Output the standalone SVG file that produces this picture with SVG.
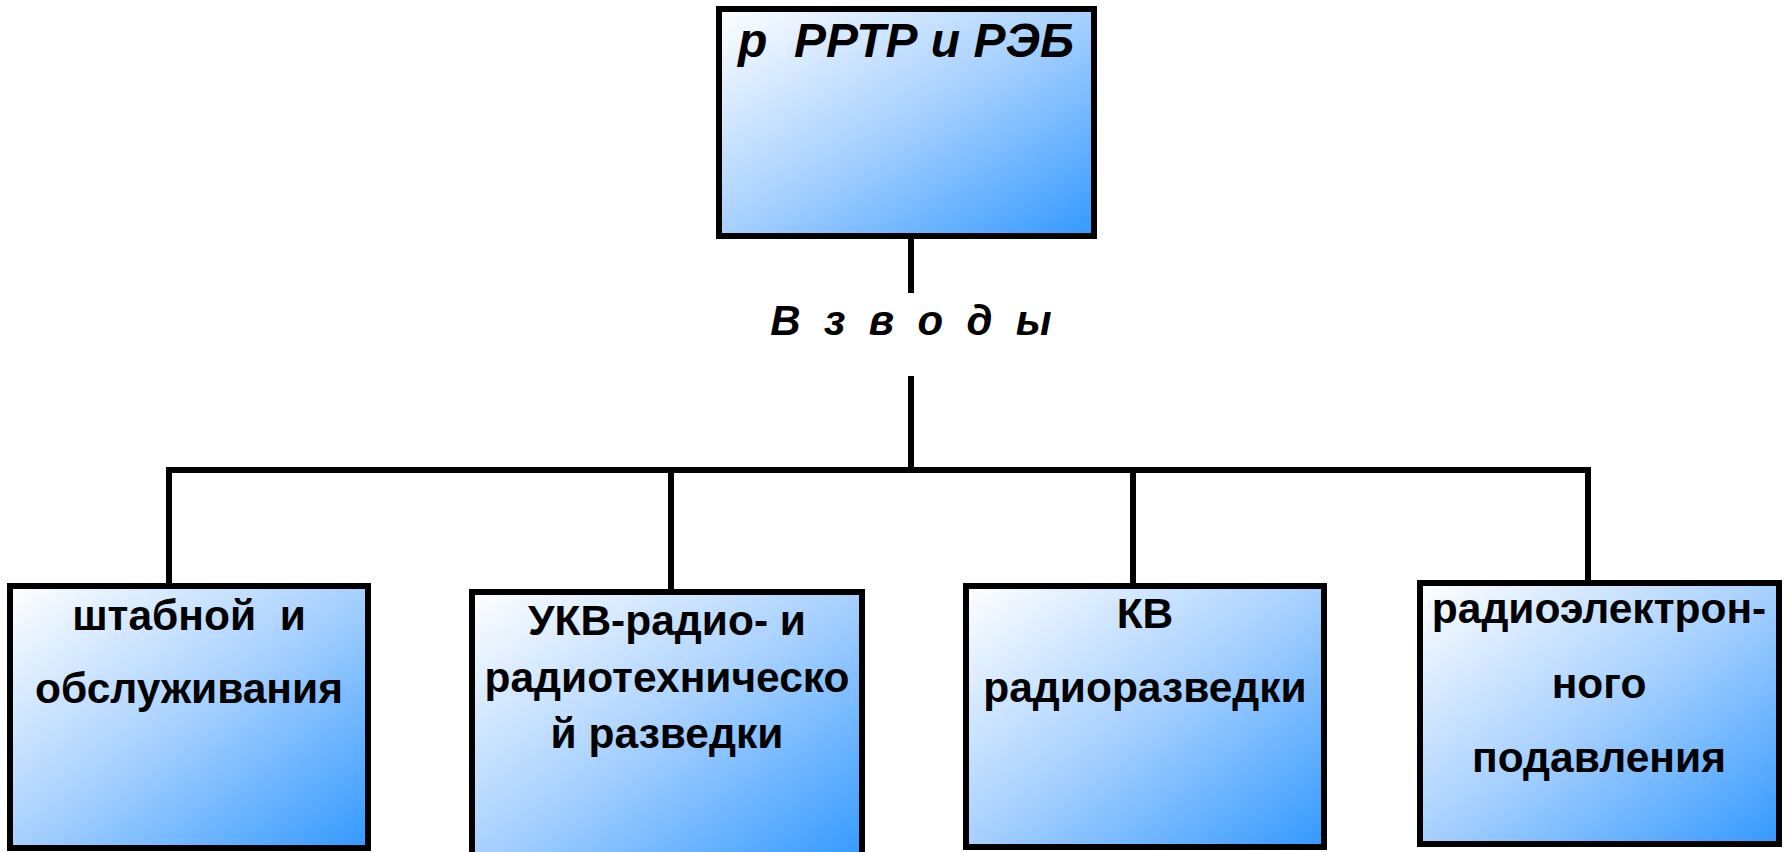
<svg xmlns="http://www.w3.org/2000/svg" width="1789" height="852" viewBox="0 0 1789 852">
<defs>
<linearGradient id="g" x1="0" y1="0" x2="1" y2="1">
<stop offset="0" stop-color="#ffffff"/>
<stop offset="0.5" stop-color="#a6d0ff"/>
<stop offset="1" stop-color="#3399ff"/>
</linearGradient>
<style>
.box{fill:url(#g);stroke:#000;stroke-width:6}
.t{font-family:"Liberation Sans",Arial,sans-serif;font-weight:bold;fill:#000;text-anchor:middle}
.it{font-style:italic}
.ln{stroke:#000;stroke-width:6;fill:none}
</style>
</defs>
<rect width="1789" height="852" fill="#fff"/>
<g id="connectors">
<line class="ln" x1="911" y1="239" x2="911" y2="293"/>
<line class="ln" x1="911" y1="376" x2="911" y2="470"/>
<line class="ln" x1="166" y1="470" x2="1591" y2="470"/>
<line class="ln" x1="169" y1="470" x2="169" y2="583"/>
<line class="ln" x1="671" y1="470" x2="671" y2="589"/>
<line class="ln" x1="1133" y1="470" x2="1133" y2="583"/>
<line class="ln" x1="1588" y1="470" x2="1588" y2="580"/>
</g>
<g id="label-vzvody">
<text class="t it" x="911" y="335" font-size="42" xml:space="preserve">В  з  в  о  д  ы</text>
</g>
<g id="top">
<rect class="box" x="719" y="9" width="375" height="227"/>
<text class="t it" x="906" y="57" font-size="48" xml:space="preserve">р  РРТР и РЭБ</text>
</g>
<g id="n1">
<rect class="box" x="10" y="586" width="358" height="262"/>
<text class="t" x="189" y="630" font-size="42.5" xml:space="preserve">штабной  и</text>
<text class="t" x="189" y="703" font-size="42.5">обслуживания</text>
</g>
<g id="n2">
<rect class="box" x="472" y="592" width="390" height="270"/>
<text class="t" x="667" y="635" font-size="42.5">УКВ-радио- и</text>
<text class="t" x="667" y="692" font-size="42.5">радиотехническо</text>
<text class="t" x="667" y="748" font-size="42.5">й разведки</text>
</g>
<g id="n3">
<rect class="box" x="966" y="586" width="358" height="261"/>
<text class="t" x="1145" y="628" font-size="42.5">КВ</text>
<text class="t" x="1145" y="702" font-size="42.5">радиоразведки</text>
</g>
<g id="n4">
<rect class="box" x="1420" y="583" width="359" height="261"/>
<text class="t" x="1599" y="623" font-size="42.5">радиоэлектрон-</text>
<text class="t" x="1599" y="698" font-size="42.5">ного</text>
<text class="t" x="1599" y="772" font-size="42.5">подавления</text>
</g>
</svg>
